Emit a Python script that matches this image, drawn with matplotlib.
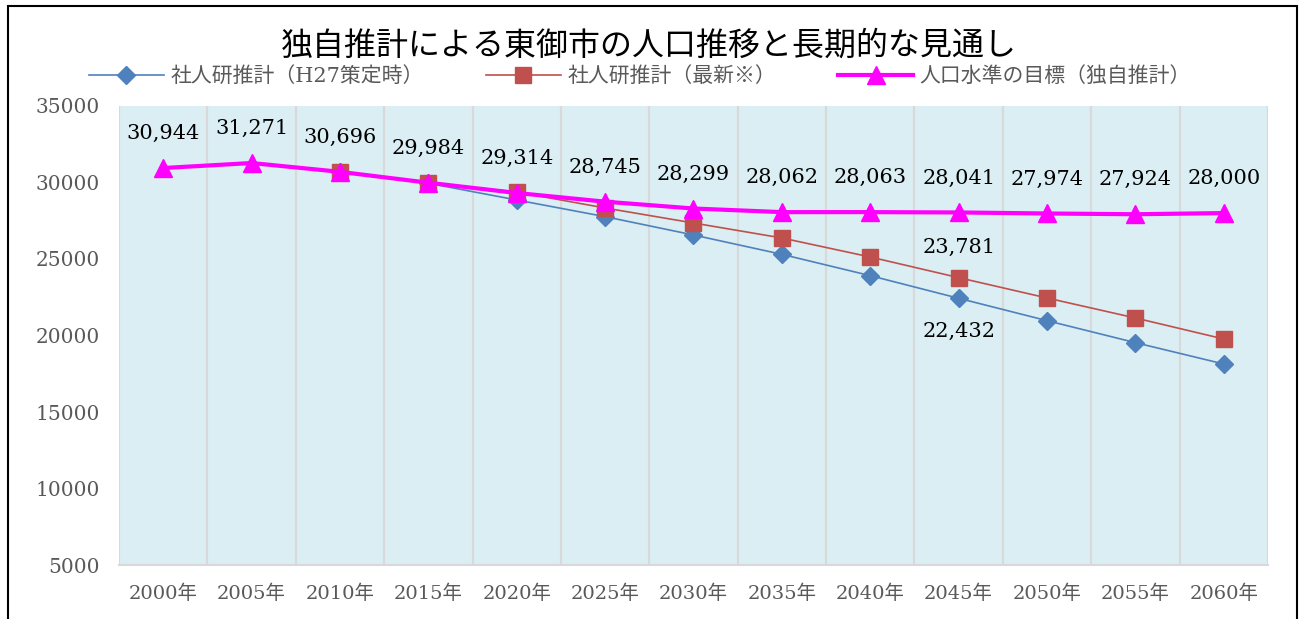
import matplotlib
matplotlib.use("Agg")
import matplotlib.pyplot as plt
from matplotlib.patches import Rectangle

plt.rcParams['font.family'] = ['DejaVu Serif', 'Noto Sans CJK JP']

years = ['2000年', '2005年', '2010年', '2015年', '2020年', '2025年', '2030年',
         '2035年', '2040年', '2045年', '2050年', '2055年', '2060年']

# 社人研推計（H27策定時） - starts 2010
ipss_h27 = [None, None, 30696, 29950, 28856, 27767, 26569, 25305, 23911, 22432, 20969, 19532, 18137]
# 社人研推計（最新※） - starts 2010
ipss_new = [None, None, 30696, 29984, 29379, 28333, 27353, 26373, 25131, 23781, 22451, 21144, 19771]
# 人口水準の目標（独自推計）
target = [30944, 31271, 30696, 29984, 29314, 28745, 28299, 28062, 28063, 28041, 27974, 27924, 28000]

fig = plt.figure(figsize=(13.06, 6.19), dpi=100)
ax = fig.add_axes([0.0911, 0.0872, 0.8798, 0.7416])
ax.set_facecolor('#DAEEF3')

x = list(range(len(years)))
bx = [i for i, v in zip(x, ipss_h27) if v is not None]
bv = [v for v in ipss_h27 if v is not None]
rx = [i for i, v in zip(x, ipss_new) if v is not None]
rv = [v for v in ipss_new if v is not None]

ax.plot(bx, bv, color='#4F81BD', lw=1.2, marker='D', ms=9, mec='#4F81BD',
        label='社人研推計（H27策定時）', zorder=3)
ax.plot(rx, rv, color='#C0504D', lw=1.2, marker='s', ms=11, mec='#C0504D',
        label='社人研推計（最新※）', zorder=4)
ax.plot(x, target, color='#FF00FF', lw=3.0, marker='^', ms=13, mec='#FF00FF',
        label='人口水準の目標（独自推計）', zorder=5)

for i, v in enumerate(target):
    ax.annotate(f'{v:,}', (i, v), xytext=(0, 18), textcoords='offset points',
                ha='center', va='bottom', fontsize=15, color='black')
ax.annotate(f'{ipss_new[9]:,}', (9, ipss_new[9]), xytext=(0, 15), textcoords='offset points',
            ha='center', va='bottom', fontsize=15, color='black')
ax.annotate(f'{ipss_h27[9]:,}', (9, ipss_h27[9]), xytext=(0, -17), textcoords='offset points',
            ha='center', va='top', fontsize=15, color='black')

ax.set_xlim(-0.5, len(years) - 0.5)
ax.set_ylim(5000, 35000)
ax.set_yticks(range(5000, 35001, 5000))
ax.set_xticks(x)
ax.set_xticklabels(years)
ax.set_xticks([i - 0.5 for i in range(len(years) + 1)], minor=True)
ax.grid(which='minor', axis='x', color='#D9D9D9', lw=1.5)
ax.tick_params(which='both', length=0)
ax.tick_params(axis='y', labelsize=14.5, labelcolor='#595959', pad=14)
ax.tick_params(axis='x', labelsize=14, labelcolor='#595959', pad=14)
for s in ['top', 'right', 'left']:
    ax.spines[s].set_visible(False)
ax.spines['bottom'].set_color('#D9D9D9')
ax.spines['bottom'].set_linewidth(1.5)

fig.text(0.497, 0.926, '独自推計による東御市の人口推移と長期的な見通し',
         ha='center', va='center', fontsize=23, color='black')

leg = fig.legend(loc='center', bbox_to_anchor=(0.49, 0.877), ncol=3, frameon=False,
                 fontsize=15, handlelength=3.6, columnspacing=3.0, handletextpad=0.3)
for t in leg.get_texts():
    t.set_color('#595959')

fig.patches.append(Rectangle((0.006, -0.05), 0.987, 1.04, transform=fig.transFigure,
                             fill=False, ec='black', lw=1.5))

fig.savefig('out.png', dpi=100)
